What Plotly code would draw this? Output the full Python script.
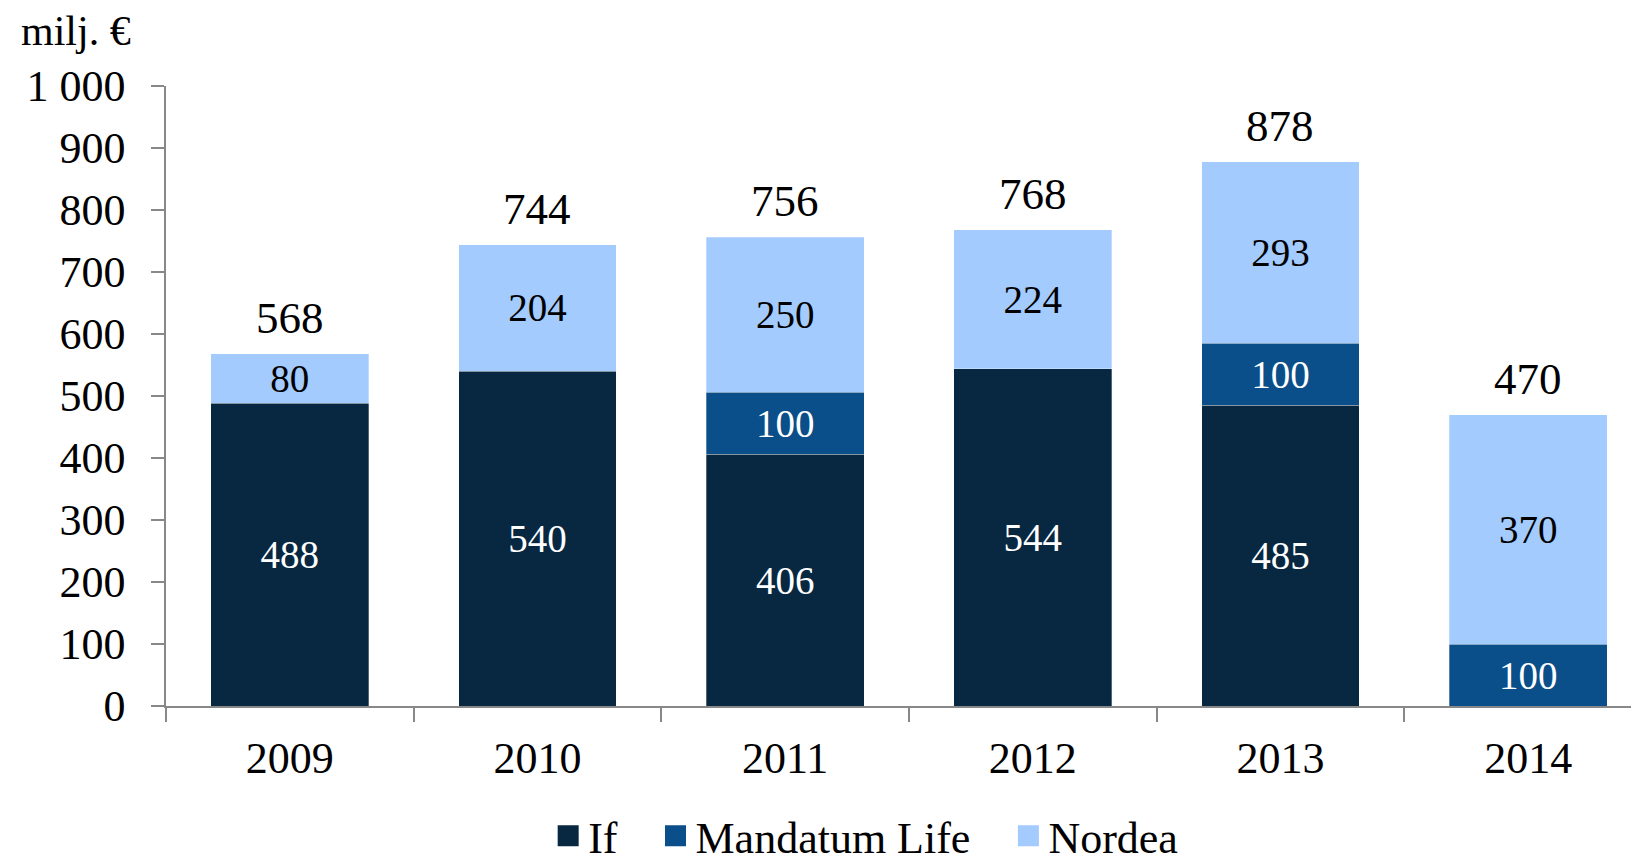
import plotly.graph_objects as go

years = ["2009", "2010", "2011", "2012", "2013", "2014"]
if_vals = [488, 540, 406, 544, 485, None]
mandatum_vals = [None, None, 100, None, 100, 100]
nordea_vals = [80, 204, 250, 224, 293, 370]
totals = [568, 744, 756, 768, 878, 470]
y_ticks = [0, 100, 200, 300, 400, 500, 600, 700, 800, 900, 1000]
y_tick_labels = ["0", "100", "200", "300", "400", "500", "600", "700", "800", "900", "1 000"]

C_IF = "#082741"
C_MAND = "#0A4E8A"
C_NORD = "#A3CBFE"
FONT = "Liberation Serif"
NB = "\u00a0\u00a0\u00a0"

def lbl(v):
    return [("" if x is None else str(x)) for x in v]

fig = go.Figure()
series = [
    ("If", if_vals, C_IF, "white"),
    ("Mandatum Life", mandatum_vals, C_MAND, "white"),
    ("Nordea", nordea_vals, C_NORD, "black"),
]
for name, vals, col, tcol in series:
    fig.add_trace(go.Bar(
        x=years, y=vals, name=name, marker=dict(color=col, line=dict(width=0.6, color="rgba(255,255,255,0.5)")),
        text=lbl(vals), textposition="inside", insidetextanchor="middle", textangle=0,
        textfont=dict(family=FONT, size=39, color=tcol), constraintext="none",
        showlegend=False, hoverinfo="skip",
    ))
# legend entries
for i, (name, vals, col, tcol) in enumerate(series):
    fig.add_trace(go.Scatter(
        x=[None], y=[None], mode="markers", name=name + (NB if i < 2 else ""),
        marker=dict(symbol="square", size=16, color=col, line=dict(width=5, color=col)),
        showlegend=True,
    ))

for i, t in enumerate(totals):
    fig.add_annotation(x=i, y=t, xref="x", yref="y", text=str(t), showarrow=False, yanchor="middle",
                       yshift=36, font=dict(family=FONT, size=45, color="black"))

fig.add_annotation(xref="paper", yref="paper", x=-0.1, y=1.089, xanchor="left", yanchor="middle",
                   text="milj. €", showarrow=False, font=dict(family=FONT, size=42, color="black"))

fig.update_layout(
    width=1631, height=859,
    margin=dict(l=158, r=0, t=78, b=161, autoexpand=False),
    barmode="stack", bargap=0.363,
    plot_bgcolor="white", paper_bgcolor="white",
    font=dict(family=FONT, color="black"),
    legend=dict(orientation="h", x=0.475, xanchor="center", y=-0.21, yanchor="middle",
                font=dict(family=FONT, size=44), itemwidth=30, tracegroupgap=0, traceorder="normal"),
)
fig.update_xaxes(
    type="category", range=[-0.5, 5.4476], tickson="boundaries",
    ticks="outside", ticklen=14, tickcolor="#888888", tickwidth=1.5,
    showline=True, linecolor="#888888", linewidth=1.5, showgrid=False,
    tickfont=dict(family=FONT, size=44, color="black"), ticklabelstandoff=12,
)
fig.update_yaxes(
    range=[0, 1000], tickvals=y_ticks, ticktext=y_tick_labels,
    ticks="outside", ticklen=13, tickcolor="#888888", tickwidth=1.5,
    showline=True, linecolor="#888888", linewidth=1.5, showgrid=False, zeroline=False,
    tickfont=dict(family=FONT, size=44, color="black"), ticklabelstandoff=17,
)

fig.write_html("out.html")
